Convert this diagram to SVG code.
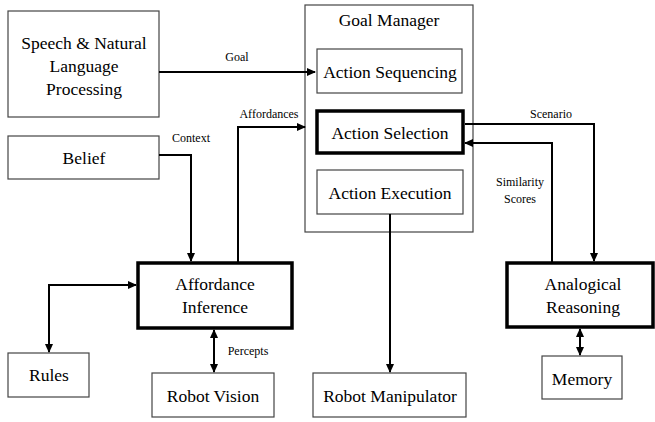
<svg xmlns="http://www.w3.org/2000/svg" width="655" height="422" viewBox="0 0 655 422">
<defs>
<marker id="ah" markerWidth="9" markerHeight="8" refX="8" refY="4" orient="auto" markerUnits="userSpaceOnUse">
<path d="M0,0 L9,4 L0,8 Z" fill="#000"/>
</marker>
<marker id="as" markerWidth="9" markerHeight="8" refX="1" refY="4" orient="auto" markerUnits="userSpaceOnUse">
<path d="M9,0 L0,4 L9,8 Z" fill="#000"/>
</marker>
</defs>
<rect width="655" height="422" fill="#fff"/>
<g id="goal-manager">
<rect x="305" y="5" width="168" height="227" fill="#fff" stroke="#444" stroke-width="1.2"/>
<text x="389" y="26" text-anchor="middle" style="font-family:'Liberation Serif';font-size:17.5px">Goal Manager</text>
</g>
<g id="speech">
<rect x="8" y="11" width="151" height="106" fill="#fff" stroke="#444" stroke-width="1.2"/>
<text x="84" y="49" text-anchor="middle" style="font-family:'Liberation Serif';font-size:17.5px">Speech &amp; Natural</text>
<text x="84" y="72" text-anchor="middle" style="font-family:'Liberation Serif';font-size:17.5px">Language</text>
<text x="84" y="95" text-anchor="middle" style="font-family:'Liberation Serif';font-size:17.5px">Processing</text>
</g>
<g id="belief">
<rect x="8" y="136" width="151" height="43" fill="#fff" stroke="#444" stroke-width="1.2"/>
<text x="84" y="164" text-anchor="middle" style="font-family:'Liberation Serif';font-size:17.5px">Belief</text>
</g>
<g id="action-sequencing">
<rect x="317" y="49" width="145" height="44" fill="#fff" stroke="#444" stroke-width="1.2"/>
<text x="390" y="78" text-anchor="middle" style="font-family:'Liberation Serif';font-size:17.5px">Action Sequencing</text>
</g>
<g id="action-selection">
<rect x="317" y="111" width="146" height="42" fill="#fff" stroke="#000" stroke-width="3.5"/>
<text x="390" y="139" text-anchor="middle" style="font-family:'Liberation Serif';font-size:17.5px">Action Selection</text>
</g>
<g id="action-execution">
<rect x="317" y="170" width="146" height="44" fill="#fff" stroke="#444" stroke-width="1.2"/>
<text x="390" y="199" text-anchor="middle" style="font-family:'Liberation Serif';font-size:17.5px">Action Execution</text>
</g>
<g id="affordance-inference">
<rect x="138" y="263" width="154" height="65" fill="#fff" stroke="#000" stroke-width="3.5"/>
<text x="215" y="290" text-anchor="middle" style="font-family:'Liberation Serif';font-size:17.5px">Affordance</text>
<text x="215" y="313" text-anchor="middle" style="font-family:'Liberation Serif';font-size:17.5px">Inference</text>
</g>
<g id="analogical-reasoning">
<rect x="507" y="263" width="146" height="64" fill="#fff" stroke="#000" stroke-width="3.5"/>
<text x="583" y="290" text-anchor="middle" style="font-family:'Liberation Serif';font-size:17.5px">Analogical</text>
<text x="583" y="313" text-anchor="middle" style="font-family:'Liberation Serif';font-size:17.5px">Reasoning</text>
</g>
<g id="rules">
<rect x="8" y="353" width="81" height="44" fill="#fff" stroke="#444" stroke-width="1.2"/>
<text x="49" y="381" text-anchor="middle" style="font-family:'Liberation Serif';font-size:17.5px">Rules</text>
</g>
<g id="robot-vision">
<rect x="152" y="373" width="122" height="44" fill="#fff" stroke="#444" stroke-width="1.2"/>
<text x="213" y="402" text-anchor="middle" style="font-family:'Liberation Serif';font-size:17.5px">Robot Vision</text>
</g>
<g id="robot-manipulator">
<rect x="313" y="373" width="153" height="44" fill="#fff" stroke="#444" stroke-width="1.2"/>
<text x="390" y="402" text-anchor="middle" style="font-family:'Liberation Serif';font-size:17.5px">Robot Manipulator</text>
</g>
<g id="memory">
<rect x="542" y="356" width="80" height="43" fill="#fff" stroke="#444" stroke-width="1.2"/>
<text x="582" y="385" text-anchor="middle" style="font-family:'Liberation Serif';font-size:17.5px">Memory</text>
</g>
<g id="connectors" fill="none" stroke="#000" stroke-width="2">
<path d="M159,72 H315" marker-end="url(#ah)"/>
<path d="M159,155 H191 V261" marker-end="url(#ah)"/>
<path d="M238,262 V127 H305" marker-end="url(#ah)"/>
<path d="M465,124 H594 V261" marker-end="url(#ah)"/>
<path d="M552,262 V143 H465" marker-end="url(#ah)"/>
<path d="M390,214 V372" marker-end="url(#ah)"/>
<path d="M136,285 H49 V352" marker-start="url(#as)" marker-end="url(#ah)"/>
<path d="M214,330 V372" marker-start="url(#as)" marker-end="url(#ah)"/>
<path d="M580,329 V355" marker-start="url(#as)" marker-end="url(#ah)"/>
</g>
<g id="connector-labels">
<text x="237" y="61" text-anchor="middle" style="font-family:'Liberation Serif';font-size:12px">Goal</text>
<text x="191" y="142" text-anchor="middle" style="font-family:'Liberation Serif';font-size:12px">Context</text>
<text x="269" y="118" text-anchor="middle" style="font-family:'Liberation Serif';font-size:12px">Affordances</text>
<text x="551" y="118" text-anchor="middle" style="font-family:'Liberation Serif';font-size:12px">Scenario</text>
<text x="520" y="186" text-anchor="middle" style="font-family:'Liberation Serif';font-size:12px">Similarity</text>
<text x="520" y="203" text-anchor="middle" style="font-family:'Liberation Serif';font-size:12px">Scores</text>
<text x="248" y="355" text-anchor="middle" style="font-family:'Liberation Serif';font-size:12px">Percepts</text>
</g>
</svg>
